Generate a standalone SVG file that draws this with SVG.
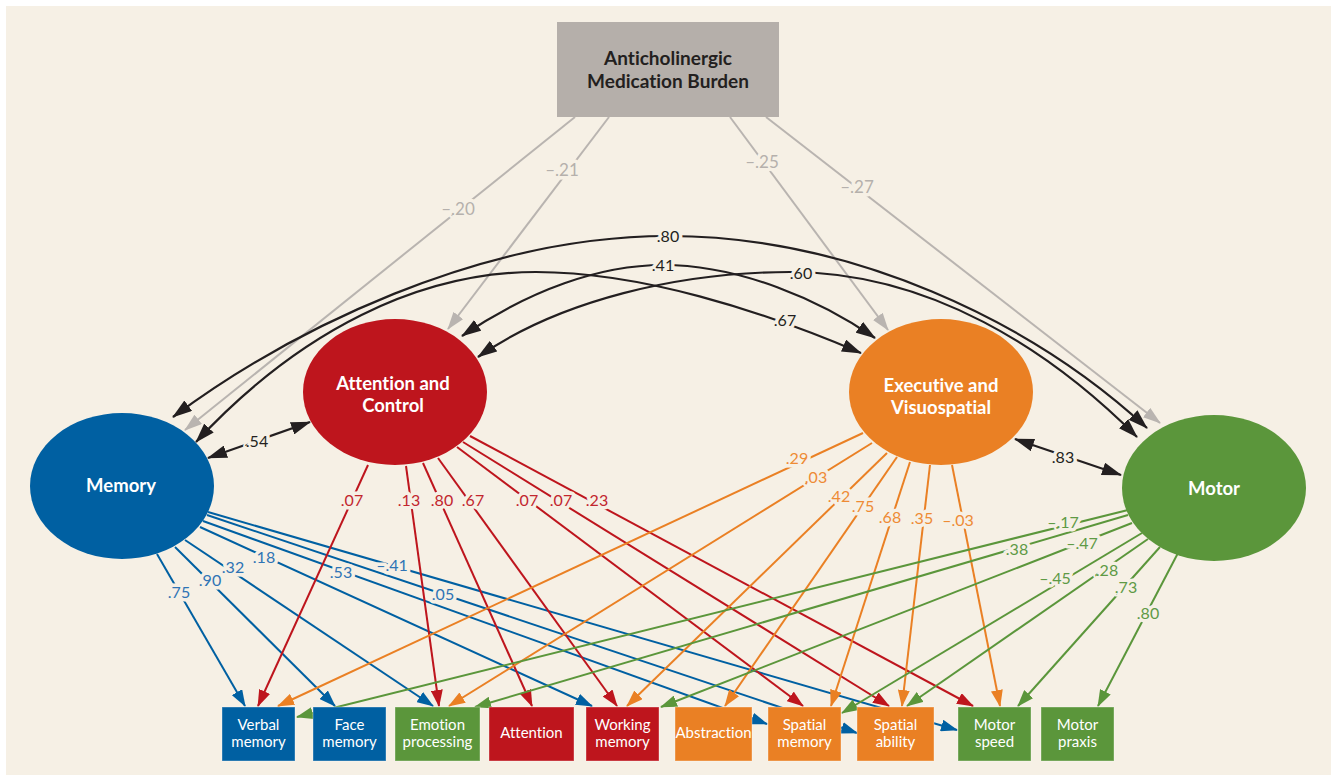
<svg xmlns="http://www.w3.org/2000/svg" width="1337" height="775" viewBox="0 0 1337 775">
<style>
text{font-variant-ligatures:none;font-feature-settings:"liga" 0,"clig" 0}
.bg{fill:#F6F0E5}
.ln{fill:none;stroke-width:2}
.b{stroke:#0060A2}.r{stroke:#BE151D}.o{stroke:#EA8024}.g{stroke:#5B963B}.gy{stroke:#B9B4B0}.k{stroke:#231F20;stroke-width:2.2}
.lab{font-family:Lato,"Open Sans","Liberation Sans",sans-serif;font-size:16px;text-anchor:middle;stroke:#F6F0E5;stroke-width:7;stroke-linejoin:round;paint-order:stroke}
.tb{fill:#2F74B5}.tr{fill:#C2262E}.to{fill:#EE8B35}.tg{fill:#5E9A45}.tgy{fill:#B5B0AC;font-size:17px}.tk{fill:#231F20}
.nt{font-family:Lato,"Open Sans","Liberation Sans",sans-serif;font-size:18.5px;font-weight:700;fill:#FFFFFF;text-anchor:middle}
.bt{font-family:Lato,"Open Sans","Liberation Sans",sans-serif;font-size:15px;fill:#FFFFFF;text-anchor:middle}
.ht{font-family:Lato,"Open Sans","Liberation Sans",sans-serif;font-size:19px;font-weight:700;fill:#231F20;text-anchor:middle}
.box{stroke:#FFFFFF;stroke-opacity:0.35;stroke-width:1}
</style>
<defs>
<marker id="mb" markerUnits="userSpaceOnUse" markerWidth="17" markerHeight="12" refX="16" refY="6" orient="auto"><path d="M0,0 L17,6 L0,12 z" fill="#0060A2"/></marker>
<marker id="mr" markerUnits="userSpaceOnUse" markerWidth="17" markerHeight="12" refX="16" refY="6" orient="auto"><path d="M0,0 L17,6 L0,12 z" fill="#BE151D"/></marker>
<marker id="mo" markerUnits="userSpaceOnUse" markerWidth="17" markerHeight="12" refX="16" refY="6" orient="auto"><path d="M0,0 L17,6 L0,12 z" fill="#EA8024"/></marker>
<marker id="mg" markerUnits="userSpaceOnUse" markerWidth="17" markerHeight="12" refX="16" refY="6" orient="auto"><path d="M0,0 L17,6 L0,12 z" fill="#5B963B"/></marker>
<marker id="my" markerUnits="userSpaceOnUse" markerWidth="18" markerHeight="12" refX="17" refY="6" orient="auto"><path d="M0,0 L18,6 L0,12 z" fill="#B9B4B0"/></marker>
<marker id="mk" markerUnits="userSpaceOnUse" markerWidth="20" markerHeight="13" refX="19" refY="6.5" orient="auto-start-reverse"><path d="M0,0 L20,6.5 L0,13 z" fill="#231F20"/></marker>
</defs>
<rect x="0" y="0" width="1337" height="775" fill="#FFFFFF"/>
<rect class="bg" x="6" y="6" width="1325" height="769"/>
<g id="connectors">
<line class="ln gy" x1="575" y1="117" x2="185" y2="430" marker-end="url(#my)"/>
<line class="ln gy" x1="609" y1="117" x2="448" y2="329" marker-end="url(#my)"/>
<line class="ln gy" x1="730" y1="117" x2="888" y2="330" marker-end="url(#my)"/>
<line class="ln gy" x1="766" y1="117" x2="1160" y2="423" marker-end="url(#my)"/>
<path class="ln k" d="M173,417 C290,330 480,236 668,236 C850,236 1030,320 1147,428" marker-start="url(#mk)" marker-end="url(#mk)"/>
<path class="ln k" d="M196,442 C300,330 420,272 536,272 C640,272 760,310 861,353" marker-start="url(#mk)" marker-end="url(#mk)"/>
<path class="ln k" d="M462,336 C530,290 600,265 663,265 C740,265 820,300 875,338" marker-start="url(#mk)" marker-end="url(#mk)"/>
<path class="ln k" d="M478,357 C560,300 680,272 790,272 C930,272 1050,350 1137,437" marker-start="url(#mk)" marker-end="url(#mk)"/>
<line class="ln k" x1="208" y1="458" x2="310" y2="422" marker-start="url(#mk)" marker-end="url(#mk)"/>
<line class="ln k" x1="1015" y1="439" x2="1121" y2="475" marker-start="url(#mk)" marker-end="url(#mk)"/>
<line class="ln b" x1="157" y1="554" x2="245" y2="706" marker-end="url(#mb)"/>
<line class="ln b" x1="175" y1="547" x2="335" y2="706" marker-end="url(#mb)"/>
<line class="ln b" x1="185" y1="540" x2="433" y2="706" marker-end="url(#mb)"/>
<line class="ln b" x1="200" y1="527" x2="592" y2="706" marker-end="url(#mb)"/>
<line class="ln b" x1="203" y1="521" x2="767" y2="724" marker-end="url(#mb)"/>
<line class="ln b" x1="207" y1="515" x2="857" y2="733" marker-end="url(#mb)"/>
<line class="ln b" x1="208" y1="512" x2="957" y2="730" marker-end="url(#mb)"/>
<line class="ln r" x1="368" y1="465" x2="258" y2="706" marker-end="url(#mr)"/>
<line class="ln r" x1="406" y1="466" x2="439" y2="706" marker-end="url(#mr)"/>
<line class="ln r" x1="423" y1="463" x2="532" y2="706" marker-end="url(#mr)"/>
<line class="ln r" x1="438" y1="458" x2="617" y2="706" marker-end="url(#mr)"/>
<line class="ln r" x1="457" y1="447" x2="803" y2="706" marker-end="url(#mr)"/>
<line class="ln r" x1="463" y1="442" x2="889" y2="706" marker-end="url(#mr)"/>
<line class="ln r" x1="470" y1="436" x2="973" y2="706" marker-end="url(#mr)"/>
<line class="ln o" x1="863" y1="433" x2="278" y2="706" marker-end="url(#mo)"/>
<line class="ln o" x1="872" y1="443" x2="449" y2="706" marker-end="url(#mo)"/>
<line class="ln o" x1="887" y1="453" x2="627" y2="706" marker-end="url(#mo)"/>
<line class="ln o" x1="897" y1="457" x2="725" y2="706" marker-end="url(#mo)"/>
<line class="ln o" x1="910" y1="462" x2="831" y2="706" marker-end="url(#mo)"/>
<line class="ln o" x1="930" y1="465" x2="902" y2="706" marker-end="url(#mo)"/>
<line class="ln o" x1="952" y1="465" x2="1000" y2="706" marker-end="url(#mo)"/>
<line class="ln g" x1="1128" y1="510" x2="297" y2="717" marker-end="url(#mg)"/>
<line class="ln g" x1="1128" y1="515" x2="475" y2="707" marker-end="url(#mg)"/>
<line class="ln g" x1="1132" y1="523" x2="661" y2="707" marker-end="url(#mg)"/>
<line class="ln g" x1="1142" y1="533" x2="842" y2="713" marker-end="url(#mg)"/>
<line class="ln g" x1="1148" y1="539" x2="907" y2="706" marker-end="url(#mg)"/>
<line class="ln g" x1="1160" y1="547" x2="1018" y2="706" marker-end="url(#mg)"/>
<line class="ln g" x1="1178" y1="553" x2="1098" y2="706" marker-end="url(#mg)"/>
<g class="lab">
<text class="tgy" x="458" y="215">–.20</text>
<text class="tgy" x="562" y="176">–.21</text>
<text class="tgy" x="762" y="168">–.25</text>
<text class="tgy" x="857" y="193">–.27</text>
<text class="tk" x="668" y="242">.80</text>
<text class="tk" x="663" y="271">.41</text>
<text class="tk" x="801" y="279">.60</text>
<text class="tk" x="785" y="326">.67</text>
<text class="tk" x="257" y="447">.54</text>
<text class="tk" x="1063" y="463">.83</text>
<text class="tb" x="179" y="598">.75</text>
<text class="tb" x="210" y="586">.90</text>
<text class="tb" x="233" y="573">.32</text>
<text class="tb" x="264" y="563">.18</text>
<text class="tb" x="341" y="578">.53</text>
<text class="tb" x="392" y="571">–.41</text>
<text class="tb" x="443" y="600">.05</text>
<text class="tr" x="352" y="506">.07</text>
<text class="tr" x="409" y="506">.13</text>
<text class="tr" x="442" y="506">.80</text>
<text class="tr" x="473" y="506">.67</text>
<text class="tr" x="527" y="506">.07</text>
<text class="tr" x="561" y="506">.07</text>
<text class="tr" x="597" y="506">.23</text>
<text class="to" x="797" y="464">.29</text>
<text class="to" x="816" y="483">.03</text>
<text class="to" x="839" y="502">.42</text>
<text class="to" x="863" y="512">.75</text>
<text class="to" x="890" y="523">.68</text>
<text class="to" x="922" y="524">.35</text>
<text class="to" x="958" y="526">–.03</text>
<text class="tg" x="1063" y="528">–.17</text>
<text class="tg" x="1017" y="555">.38</text>
<text class="tg" x="1082" y="549">–.47</text>
<text class="tg" x="1055" y="584">–.45</text>
<text class="tg" x="1107" y="576">.28</text>
<text class="tg" x="1126" y="593">.73</text>
<text class="tg" x="1148" y="619">.80</text>
</g>
</g>
<g id="burden">
<rect x="557" y="22" width="222" height="95" fill="#B5AFAA"/>
<text class="ht" x="668" y="65">Anticholinergic</text>
<text class="ht" x="668" y="88">Medication Burden</text>
</g>
<g id="memory">
<ellipse cx="122" cy="486" rx="92" ry="73" fill="#0060A2"/>
<text class="nt" x="121" y="492">Memory</text>
</g>
<g id="attention-control">
<ellipse cx="395" cy="392" rx="92" ry="73" fill="#BE151D"/>
<text class="nt" x="393" y="390">Attention and</text>
<text class="nt" x="393" y="412">Control</text>
</g>
<g id="executive-visuospatial">
<ellipse cx="941" cy="392" rx="92" ry="73" fill="#EA8024"/>
<text class="nt" x="941" y="392">Executive and</text>
<text class="nt" x="941" y="414">Visuospatial</text>
</g>
<g id="motor">
<ellipse cx="1214" cy="488" rx="92" ry="73" fill="#5B963B"/>
<text class="nt" x="1214" y="495">Motor</text>
</g>
<g id="verbal-memory">
<rect class="box" x="222" y="707" width="73" height="54" fill="#0060A2"/>
<text class="bt" x="258.5" y="730">Verbal</text>
<text class="bt" x="258.5" y="747">memory</text>
</g>
<g id="face-memory">
<rect class="box" x="313" y="707" width="73" height="54" fill="#0060A2"/>
<text class="bt" x="349.5" y="730">Face</text>
<text class="bt" x="349.5" y="747">memory</text>
</g>
<g id="emotion-processing">
<rect class="box" x="395" y="707" width="85" height="54" fill="#5B963B"/>
<text class="bt" x="437.5" y="730">Emotion</text>
<text class="bt" x="437.5" y="747">processing</text>
</g>
<g id="attention">
<rect class="box" x="489" y="707" width="85" height="54" fill="#BE151D"/>
<text class="bt" x="531.5" y="738">Attention</text>
</g>
<g id="working-memory">
<rect class="box" x="586" y="707" width="73" height="54" fill="#BE151D"/>
<text class="bt" x="622.5" y="730">Working</text>
<text class="bt" x="622.5" y="747">memory</text>
</g>
<g id="abstraction">
<rect class="box" x="675" y="707" width="77" height="54" fill="#EA8024"/>
<text class="bt" x="713.5" y="738">Abstraction</text>
</g>
<g id="spatial-memory">
<rect class="box" x="768" y="707" width="73" height="54" fill="#EA8024"/>
<text class="bt" x="804.5" y="730">Spatial</text>
<text class="bt" x="804.5" y="747">memory</text>
</g>
<g id="spatial-ability">
<rect class="box" x="857" y="707" width="77" height="54" fill="#EA8024"/>
<text class="bt" x="895.5" y="730">Spatial</text>
<text class="bt" x="895.5" y="747">ability</text>
</g>
<g id="motor-speed">
<rect class="box" x="958" y="707" width="73" height="54" fill="#5B963B"/>
<text class="bt" x="994.5" y="730">Motor</text>
<text class="bt" x="994.5" y="747">speed</text>
</g>
<g id="motor-praxis">
<rect class="box" x="1041" y="707" width="73" height="54" fill="#5B963B"/>
<text class="bt" x="1077.5" y="730">Motor</text>
<text class="bt" x="1077.5" y="747">praxis</text>
</g>
</svg>
